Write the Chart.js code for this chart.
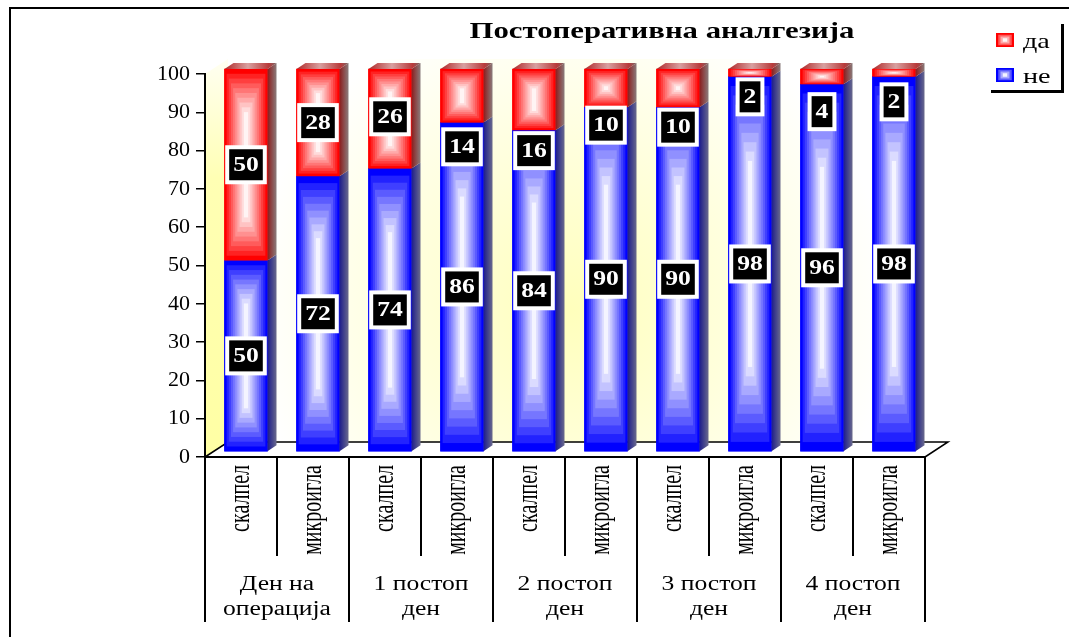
<!DOCTYPE html>
<html>
<head>
<meta charset="utf-8">
<script src="https://cdn.jsdelivr.net/npm/chart.js@4.4.1/dist/chart.umd.min.js"></script>
<style>
  html, body { margin: 0; padding: 0; background: #fff; }
  #wrap { width: 1069px; height: 637px; position: relative; }
</style>
</head>
<body>
<div id="wrap"><canvas id="c"></canvas></div>
<script>
const subLabels = ['скалпел', 'микроигла', 'скалпел', 'микроигла', 'скалпел', 'микроигла', 'скалпел', 'микроигла', 'скалпел', 'микроигла'];
const groupLabels = [['Ден на', 'операција'], ['1 постоп', 'ден'], ['2 постоп', 'ден'], ['3 постоп', 'ден'], ['4 постоп', 'ден']];
const neValues = [50, 72, 74, 86, 84, 90, 90, 98, 96, 98];
const daValues = [50, 28, 26, 14, 16, 10, 10, 2, 4, 2];
const titleText = 'Постоперативна аналгезија';

// small red segments get their label pushed down below the segment (px)
const daLabelNudge = [0, 0, -2, 51, 51, 37, 39, 24, 35, 29];

const SERIF = '"Liberation Serif", "Times New Roman", serif';
const TEXT_SX = 1.28;          // text is drawn a bit wider than tall
const SHIFT = { x: 5, y: -5 }; // bars sit half way into the floor
const DEPTH = { x: 9, y: 6 };  // bar side / top depth
const FLOOR = { x: 23, y: 15 };

const BLUE = [0, 0, 255], BLUE_C = [244, 244, 255];
const RED = [255, 0, 0], RED_C = [255, 244, 244];

function rgb(c) { return 'rgb(' + c.map(Math.round).join(',') + ')'; }
function mix(a, b, t) { return a.map((v, i) => v + (b[i] - v) * t); }

// rectangular "from centre" gradient made of nested bands
function boxGradient(ctx, x0, y0, x1, y1, edge, center, steps) {
  const w = x1 - x0, h = y1 - y0;
  const ry = Math.min(h / 2, Math.max(w / 2, h / 4));
  for (let k = 0; k < steps; k++) {
    const t = k / steps;
    const dx = t * w / 2, dy = t * ry;
    ctx.fillStyle = rgb(mix(edge, center, Math.pow(k / (steps - 1), 0.9)));
    ctx.fillRect(x0 + dx, y0 + dy, w - 2 * dx, h - 2 * dy);
  }
}

function sideFace(ctx, xr, yt, yb, dark, light) {
  const g = ctx.createLinearGradient(xr, 0, xr + DEPTH.x, 0);
  g.addColorStop(0, dark);
  g.addColorStop(1, light);
  ctx.fillStyle = g;
  ctx.beginPath();
  ctx.moveTo(xr, yt);
  ctx.lineTo(xr + DEPTH.x, yt - DEPTH.y);
  ctx.lineTo(xr + DEPTH.x, yb - DEPTH.y);
  ctx.lineTo(xr, yb);
  ctx.closePath();
  ctx.fill();
}

function topFace(ctx, xl, xr, yt) {
  const g = ctx.createLinearGradient(xl, 0, xr + DEPTH.x, 0);
  g.addColorStop(0, '#b02828');
  g.addColorStop(0.45, '#d8a0a0');
  g.addColorStop(0.85, '#b83a3a');
  g.addColorStop(1, '#7a6a6a');
  ctx.fillStyle = g;
  ctx.beginPath();
  ctx.moveTo(xl, yt);
  ctx.lineTo(xl + DEPTH.x, yt - DEPTH.y);
  ctx.lineTo(xr + DEPTH.x, yt - DEPTH.y);
  ctx.lineTo(xr, yt);
  ctx.closePath();
  ctx.fill();
}

function wideText(ctx, text, x, y, font, align, baseline) {
  ctx.save();
  ctx.translate(x, y);
  ctx.scale(TEXT_SX, 1);
  ctx.font = font;
  ctx.textAlign = align;
  ctx.textBaseline = baseline || 'middle';
  ctx.fillText(text, 0, 0);
  ctx.restore();
}

const bar3d = {
  id: 'bar3d',
  beforeDraw(chart) {
    const { ctx, chartArea: a } = chart;
    ctx.save();
    ctx.fillStyle = '#fff';
    ctx.fillRect(0, 0, chart.width, chart.height);
    const wallTop = a.top - FLOOR.y;
    // back wall
    const g = ctx.createRadialGradient(570, 310, 0, 570, 310, 320);
    g.addColorStop(0, '#ffffbc');
    g.addColorStop(0.5, '#ffffdc');
    g.addColorStop(1, '#ffffff');
    ctx.fillStyle = g;
    ctx.fillRect(a.left + FLOOR.x, wallTop, a.right - a.left, a.bottom - a.top);
    // left side wall
    const s = ctx.createLinearGradient(0, wallTop, 0, a.bottom);
    s.addColorStop(0, '#fffff2');
    s.addColorStop(0.3, '#ffffb4');
    s.addColorStop(1, '#ffffa4');
    ctx.fillStyle = s;
    ctx.beginPath();
    ctx.moveTo(a.left, a.top);
    ctx.lineTo(a.left + FLOOR.x, wallTop);
    ctx.lineTo(a.left + FLOOR.x, a.bottom - FLOOR.y);
    ctx.lineTo(a.left, a.bottom);
    ctx.closePath();
    ctx.fill();
    ctx.restore();
  },
  beforeDatasetsDraw(chart) {
    const { ctx, chartArea: a } = chart;
    // floor outline
    ctx.save();
    ctx.strokeStyle = '#000';
    ctx.lineWidth = 1.5;
    ctx.beginPath();
    ctx.moveTo(a.left, a.bottom);
    ctx.lineTo(a.left + FLOOR.x, a.bottom - FLOOR.y);
    ctx.lineTo(a.right + FLOOR.x, a.bottom - FLOOR.y);
    ctx.lineTo(a.right, a.bottom);
    ctx.stroke();
    ctx.restore();
    ctx.save();
    ctx.translate(SHIFT.x, SHIFT.y);
  },
  afterDatasetsDraw(chart) {
    const ctx = chart.ctx;
    const ne = chart.getDatasetMeta(0).data;
    const da = chart.getDatasetMeta(1).data;
    ne.forEach((el, i) => {
      const top = da[i];
      const xl = el.x - el.width / 2, xr = el.x + el.width / 2;
      boxGradient(ctx, xl, el.y, xr, el.base, BLUE, BLUE_C, 10);
      sideFace(ctx, xr, el.y, el.base, '#1c1c8c', '#6a6a8c');
      boxGradient(ctx, xl, top.y, xr, top.base, RED, RED_C, 10);
      sideFace(ctx, xr, top.y, top.base, '#8c1c1c', '#8a7c7c');
      topFace(ctx, xl, xr, top.y);
    });
    ctx.restore();
  },
  afterDraw(chart) {
    const { ctx, chartArea: a } = chart;
    const xs = chart.scales.x;
    const step = xs.getPixelForValue(1) - xs.getPixelForValue(0);

    ctx.save();
    ctx.fillStyle = '#000';
    ctx.strokeStyle = '#000';

    // outer frame
    ctx.fillRect(9, 7, 2, chart.height);
    ctx.fillRect(9, 7, chart.width, 2);

    // title
    wideText(ctx, titleText, 662, 32, 'bold 24px ' + SERIF, 'center');

    // category table under the axis
    ctx.lineWidth = 2;
    for (let i = 0; i <= subLabels.length; i++) {
      const x = Math.round(a.left + i * step);
      const long = i % 2 === 0;
      ctx.beginPath();
      ctx.moveTo(x, a.bottom);
      ctx.lineTo(x, a.bottom + (long ? 165 : 99));
      ctx.stroke();
    }
    subLabels.forEach((lab, i) => {
      const cx = xs.getPixelForValue(i);
      ctx.save();
      ctx.translate(cx, a.bottom + 8);
      ctx.scale(1.45, 1);
      ctx.rotate(-Math.PI / 2);
      ctx.font = '20px ' + SERIF;
      ctx.textAlign = 'right';
      ctx.textBaseline = 'middle';
      ctx.fillText(lab, 0, 0);
      ctx.restore();
    });
    groupLabels.forEach((lines, g) => {
      const cx = (xs.getPixelForValue(2 * g) + xs.getPixelForValue(2 * g + 1)) / 2;
      lines.forEach((t, k) => wideText(ctx, t, cx, a.bottom + 128 + k * 25, '20px ' + SERIF, 'center'));
    });

    // value labels
    const drawLabel = (el, value, nudge) => {
      const cx = el.x + SHIFT.x;
      const cy = (el.y + el.base) / 2 + SHIFT.y + nudge;
      const txt = String(value);
      ctx.font = 'bold 20px ' + SERIF;
      const tw = ctx.measureText(txt).width * TEXT_SX;
      const bw = tw + 8, bh = 31;
      ctx.fillStyle = '#fff';
      ctx.fillRect(cx - bw / 2 - 4, cy - bh / 2 - 4, bw + 8, bh + 8);
      ctx.fillStyle = '#000';
      ctx.fillRect(cx - bw / 2, cy - bh / 2, bw, bh);
      ctx.fillStyle = '#fff';
      wideText(ctx, txt, cx, cy + 1, 'bold 20px ' + SERIF, 'center');
    };
    chart.getDatasetMeta(0).data.forEach((el, i) => drawLabel(el, neValues[i], 0));
    chart.getDatasetMeta(1).data.forEach((el, i) => drawLabel(el, daValues[i], daLabelNudge[i]));

    // legend
    ctx.fillStyle = '#000';
    ctx.fillRect(1061, 24, 3, 69);
    ctx.fillRect(991, 90, 73, 3);
    const legendItems = [
      { text: chart.data.datasets[1].label, edge: RED, center: RED_C, y: 33 },
      { text: chart.data.datasets[0].label, edge: BLUE, center: BLUE_C, y: 68 }
    ];
    legendItems.forEach(it => {
      boxGradient(ctx, 996, it.y, 1014, it.y + 14, it.edge, it.center, 4);
      ctx.fillStyle = '#000';
      wideText(ctx, it.text, 1023, it.y + 15, '22px ' + SERIF, 'left', 'alphabetic');
    });
    ctx.restore();
  }
};

new Chart(document.getElementById('c'), {
  type: 'bar',
  data: {
    labels: subLabels,
    datasets: [
      { label: 'не', data: neValues, backgroundColor: rgb(BLUE) },
      { label: 'да', data: daValues, backgroundColor: rgb(RED) }
    ]
  },
  options: {
    responsive: true,
    maintainAspectRatio: false,
    animation: false,
    devicePixelRatio: 1,
    layout: { padding: { left: 0, top: 74, right: 144, bottom: 0 } },
    datasets: { bar: { barThickness: 43, borderWidth: 0, clip: false } },
    plugins: {
      legend: { display: false },
      title: { display: false },
      tooltip: { enabled: false }
    },
    scales: {
      x: {
        stacked: true,
        grid: { display: false },
        border: { display: true, color: '#000', width: 2 },
        ticks: { display: false },
        afterFit(s) { s.height = 180; }
      },
      y: {
        stacked: true,
        min: 0,
        max: 100,
        ticks: { stepSize: 10, color: '#000', font: { family: SERIF, size: 22 }, padding: 6 },
        grid: { display: true, drawOnChartArea: false, drawTicks: true, tickLength: 9, color: '#000', lineWidth: 1.5 },
        border: { display: true, color: '#000', width: 2 },
        afterFit(s) { s.width = 205; }
      }
    }
  },
  plugins: [bar3d]
});
</script>
</body>
</html>
